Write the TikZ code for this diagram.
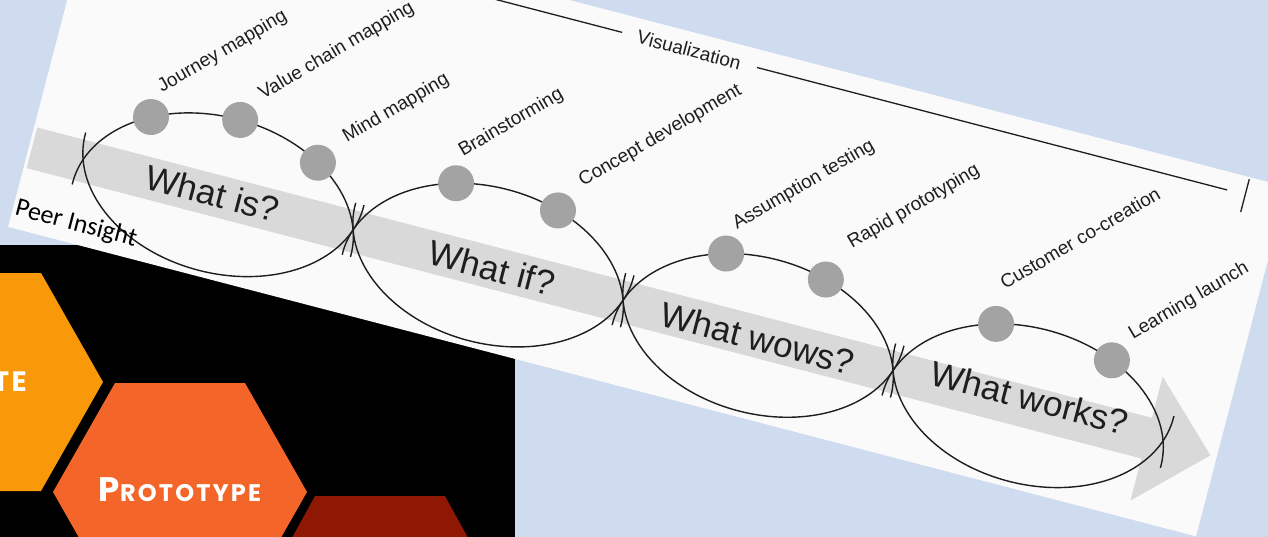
\documentclass[tikz,border=0pt]{standalone}
\usepackage{fontspec}
\setmainfont{Liberation Sans}
\newfontfamily\peerfont{Carlito}
\newfontfamily\hexfont{Poppins}[LetterSpace=9]
\definecolor{bgblue}{HTML}{CFDCF0}
\definecolor{panelw}{HTML}{F9FAF9}
\definecolor{bandgray}{HTML}{D9D9D9}
\definecolor{dotgray}{HTML}{A3A3A3}
\definecolor{inkc}{HTML}{1E1E1E}
\definecolor{hexorange}{HTML}{F9990A}
\definecolor{hexred}{HTML}{F36528}
\definecolor{hexdark}{HTML}{8E1804}
\tikzset{
  loopline/.style={draw=inkc, line width=1.4pt},
  visline/.style={draw=inkc, line width=1.3pt},
  dot/.style={circle, fill=dotgray, minimum size=36pt, inner sep=0pt},
  lbl/.style={anchor=base west, rotate=45, inner sep=0pt, font=\fontsize{19}{21}\selectfont, text=inkc},
  bigtxt/.style={font=\fontsize{35}{38}\selectfont, text=inkc, inner sep=0pt},
  vistxt/.style={font=\fontsize{19}{21}\selectfont, text=inkc, inner sep=0pt},
  peertxt/.style={font=\peerfont\fontsize{26}{28}\selectfont, text=black, inner sep=0pt},
  hextxt/.style={font=\hexfont\bfseries\fontsize{24}{26}\selectfont, text=white, inner sep=0pt},
}
\begin{document}
\begin{tikzpicture}[x=1pt,y=-1pt]
\useasboundingbox (0,0) rectangle (1268,537);
\clip (0,0) rectangle (1268,537);
\fill[bgblue] (0,0) rectangle (1268,537);
% black panel with hexagons
\fill[black] (0,245) rectangle (515,537);
\fill[hexorange] (41,273) -- (103,382) -- (41,491) -- (-89,491) -- (-151,382) -- (-89,273) -- cycle;
\fill[hexred] (115,383) -- (245,383) -- (307,492) -- (245,601) -- (115,601) -- (53,492) -- cycle;
\fill[hexdark] (315,496) -- (445,496) -- (505,605) -- (445,714) -- (315,714) -- (255,605) -- cycle;
\node[hextxt, font=\hexfont\bfseries\fontsize{28}{30}\selectfont, anchor=east] (te) at (27,382) {TE};
\node[hextxt] (proto) at (180,490) {{\fontsize{34}{34}\selectfont P}ROTOTYPE};
% rotated white panel
\begin{scope}[shift={(83.1,159.6)}, rotate=-14.6, x=1pt, y=1pt, transform shape]
  \fill[panelw] (-55.6,-84) rectangle (1172,277);
  \fill[bandgray] (-52.5,19.5) -- (1099.5,19.5) -- (1099.5,62) -- (1165.5,-2)
     -- (1099.5,-66) -- (1099.5,-22.5) -- (-52.5,-22.5) -- cycle;
  % visualization bracket
  \coordinate (vs) at (-30,259);
  \coordinate (ve) at (1114.8,259);
  \node[vistxt] (vis) at (558.7,259) {Visualization};
  \draw[visline] (vs) -- (489.6,259);
  \draw[visline] (629,259) -- (ve);
  \draw[visline] (1133.5,241) -- (1133.5,275);
  % loops
  \foreach \ac in {139.5,418.5,697.5,976.5} {
    \draw[loopline] (\ac,-25) ++(-1:143.8pt and 103pt)
      arc[start angle=-1, end angle=181, x radius=143.8pt, y radius=103pt];
    \draw[loopline] (\ac,25) ++(179:143.8pt and 103pt)
      arc[start angle=179, end angle=361, x radius=143.8pt, y radius=103pt];
  }
  % dots
  \path (139.5,-25) ++(126:143.8pt and 103pt) node[dot] (d1) {};
  \path (139.5,-25) ++(89:143.8pt and 103pt) node[dot] (d2) {};
  \path (139.5,-25) ++(52:143.8pt and 103pt) node[dot] (d3) {};
  \path (418.5,-25) ++(111:143.8pt and 103pt) node[dot] (d4) {};
  \path (418.5,-25) ++(68:143.8pt and 103pt) node[dot] (d5) {};
  \path (697.5,-25) ++(111:143.8pt and 103pt) node[dot] (d6) {};
  \path (697.5,-25) ++(69:143.8pt and 103pt) node[dot] (d7) {};
  \path (976.5,-25) ++(111:143.8pt and 103pt) node[dot] (d8) {};
  \path (976.5,-25) ++(61:143.8pt and 103pt) node[dot] (d9) {};
  % labels
  \node[lbl] (l1) at (59.6,84.3) {Journey mapping};
  \node[lbl] (l2) at (159.1,103.1) {Value chain mapping};
  \node[lbl] (l3) at (251.2,82.6) {Mind mapping};
  \node[lbl] (l4) at (366.9,98.3) {Brainstorming};
  \node[lbl] (l5) at (490.7,99.5) {Concept development};
  \node[lbl] (l6) at (650.5,96.7) {Assumption testing};
  \node[lbl] (l7) at (766.6,107.3) {Rapid prototyping};
  \node[lbl] (l8) at (925,106.2) {Customer co-creation};
  \node[lbl] (l9) at (1061.5,90.1) {Learning launch};
  % big texts
  \node[bigtxt] (w1) at (134,0) {What is?};
  \node[bigtxt] (w2) at (423,-1.8) {What if?};
  \node[bigtxt] (w3) at (697.8,-3) {What wows?};
  \node[bigtxt] (w4) at (976,8) {What works?};
  \node[peertxt] (peer) at (9.3,-64.1) {Peer Insight};
\end{scope}
\end{tikzpicture}
\end{document}
